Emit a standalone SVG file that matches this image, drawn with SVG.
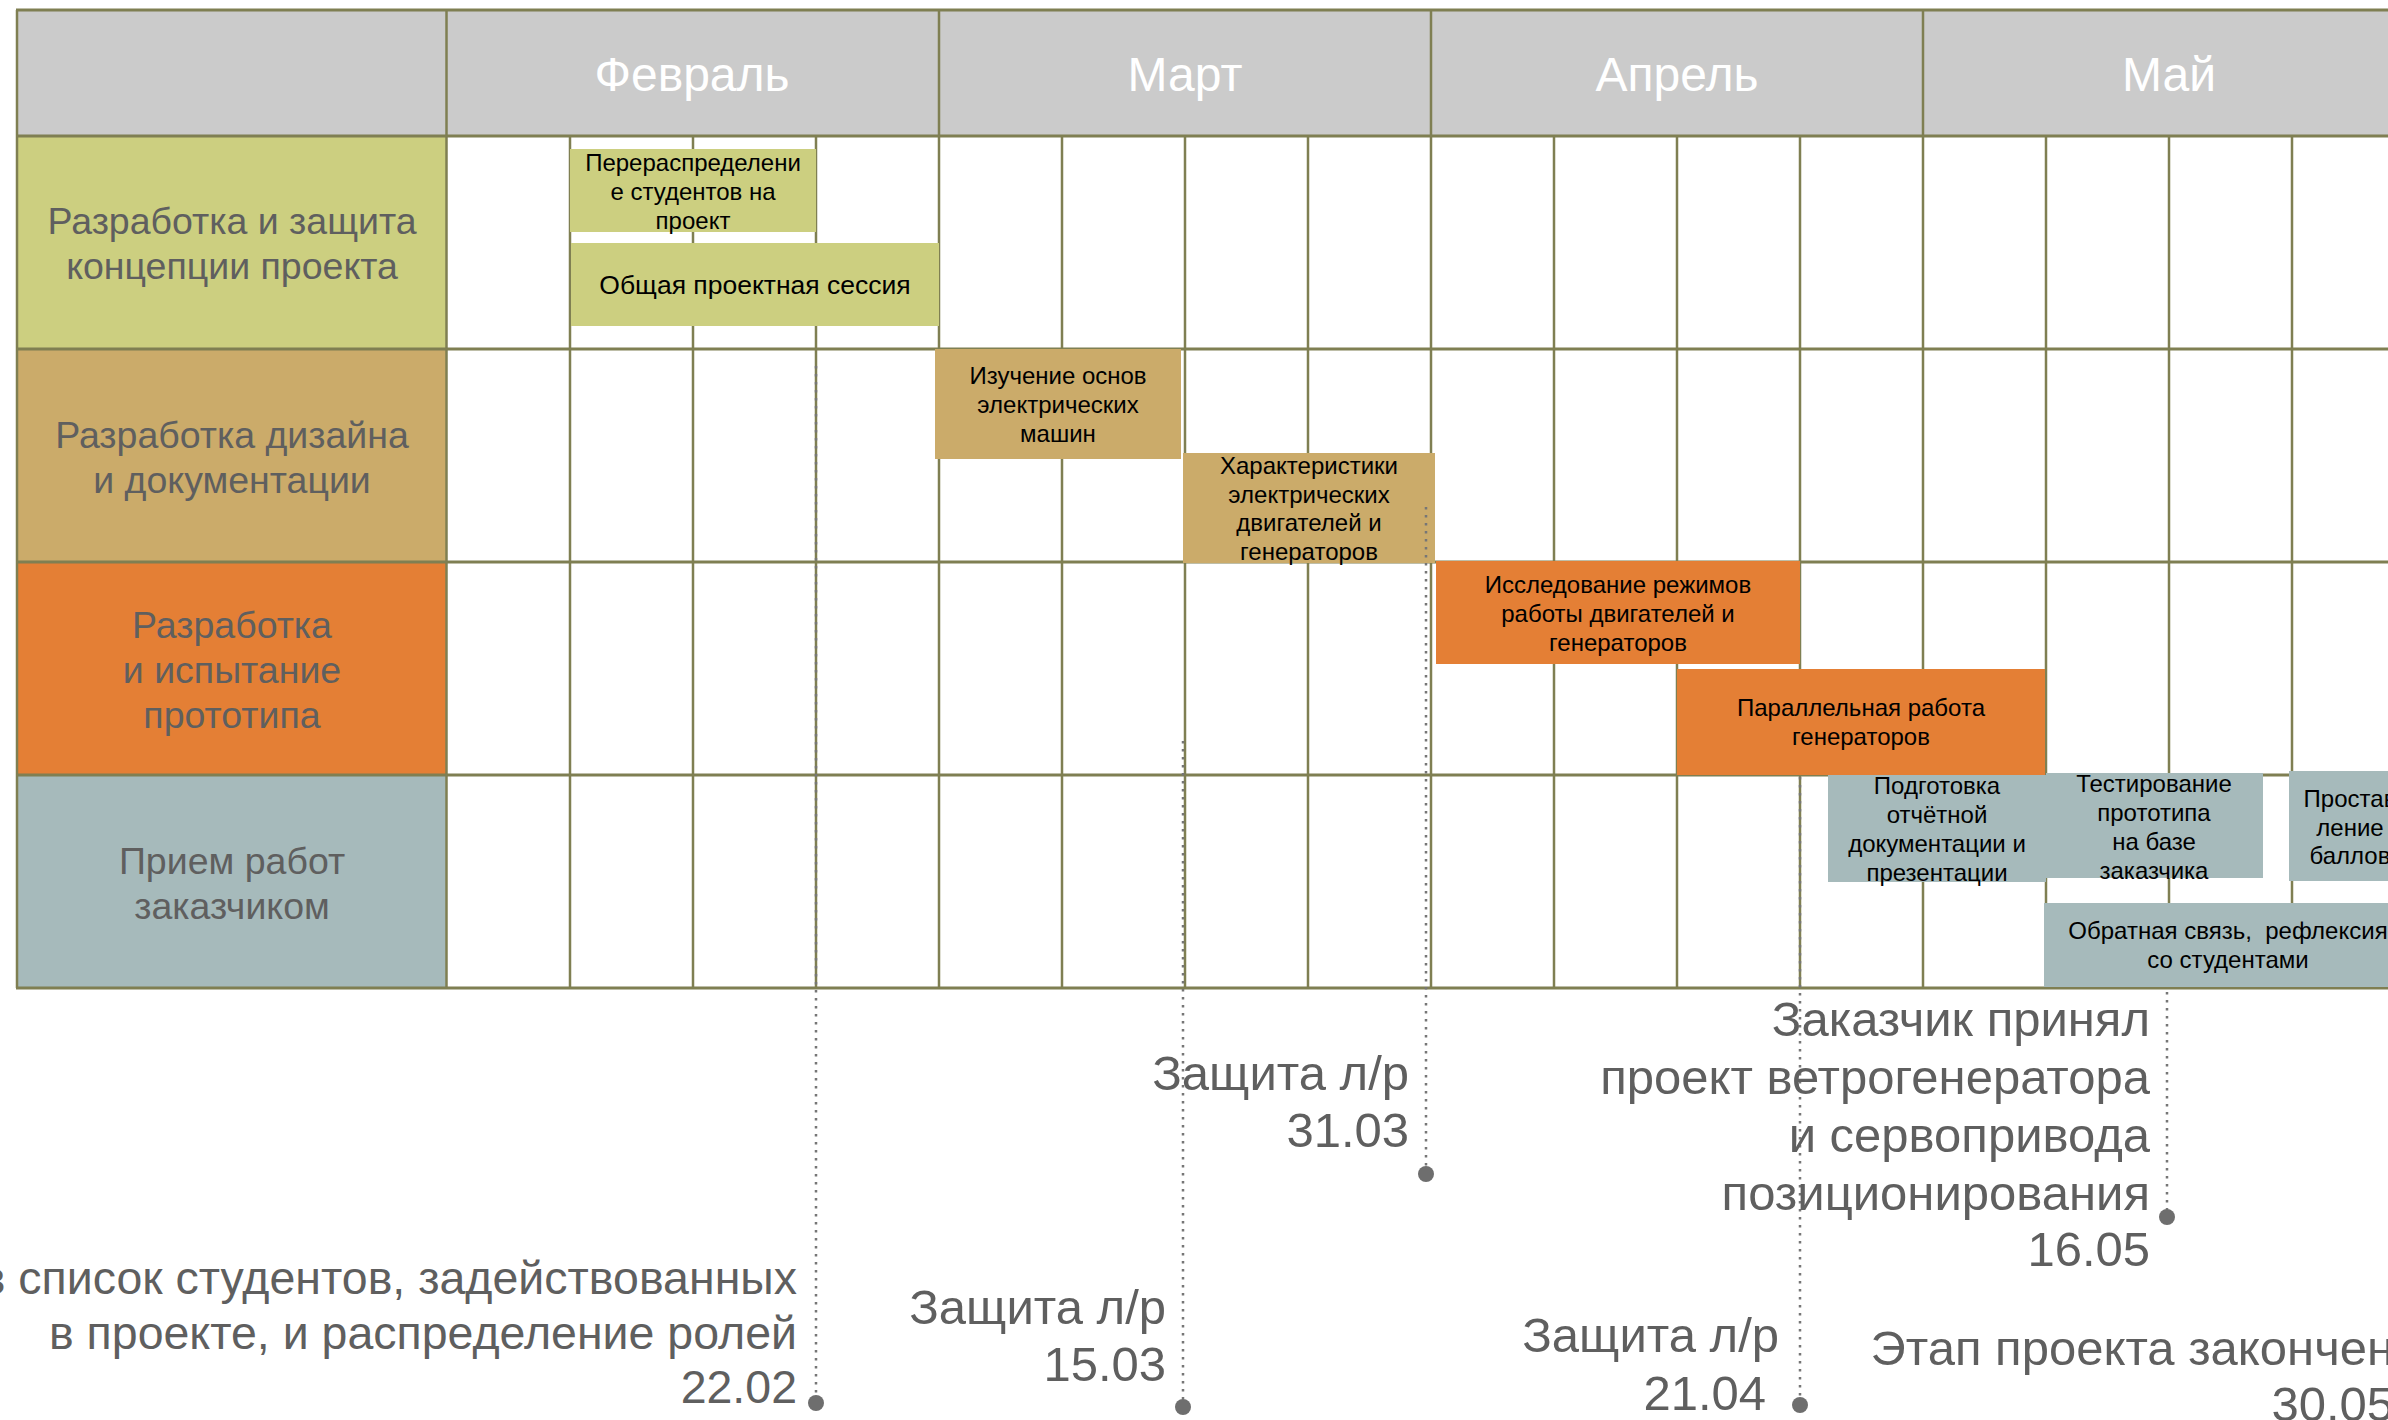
<svg xmlns="http://www.w3.org/2000/svg" width="2388" height="1420" viewBox="0 0 2388 1420">
<style>
text { font-family: "Liberation Sans", Arial, "DejaVu Sans", sans-serif; }
.hdr { fill: #CBCBCB; }
.hl { stroke: #7F7F52; stroke-width: 3; }
.vl { stroke: #7F7F52; stroke-width: 2.5; }
.month { font-size: 48px; fill: #FFFFFF; text-anchor: middle; }
.lbl { font-size: 37.5px; fill: #5F5F5F; text-anchor: middle; }
.task { font-size: 24px; fill: #000000; text-anchor: middle; }
.ms { font-size: 49px; fill: #5F5F5F; text-anchor: end; }
.ms45 { font-size: 46.5px; fill: #5F5F5F; text-anchor: end; }
.c1 { fill: #CCCF80; }
.c2 { fill: #CBAB6A; }
.c3 { fill: #E47F35; }
.c4 { fill: #A6BABB; }
.dl { stroke: #767676; stroke-width: 2.5; stroke-dasharray: 2.5 5.5; fill: none; }
.dot { fill: #6E6E6E; }
</style>
<rect width="2388" height="1420" fill="#FFFFFF"/>

<g id="header">
  <rect class="hdr" x="17" y="10" width="2390" height="126"/>
  <text class="month" x="692" y="91">Февраль</text>
  <text class="month" x="1185" y="91">Март</text>
  <text class="month" x="1677" y="91">Апрель</text>
  <text class="month" x="2169" y="91">Май</text>
</g>

<g id="row-labels">
  <g id="row1"><rect class="c1" x="17" y="136" width="430" height="213"/>
    <text class="lbl" x="232" y="234">Разработка и защита</text>
    <text class="lbl" x="232" y="279">концепции проекта</text></g>
  <g id="row2"><rect class="c2" x="17" y="349" width="430" height="213"/>
    <text class="lbl" x="232" y="448">Разработка дизайна</text>
    <text class="lbl" x="232" y="493">и документации</text></g>
  <g id="row3"><rect class="c3" x="17" y="562" width="430" height="213"/>
    <text class="lbl" x="232" y="638">Разработка</text>
    <text class="lbl" x="232" y="683">и испытание</text>
    <text class="lbl" x="232" y="728">прототипа</text></g>
  <g id="row4"><rect class="c4" x="17" y="775" width="430" height="213"/>
    <text class="lbl" x="232" y="874">Прием работ</text>
    <text class="lbl" x="232" y="919">заказчиком</text></g>
</g>

<g id="grid">
  <line class="vl" x1="17" y1="10" x2="17" y2="988"/>
  <line class="vl" x1="446.5" y1="10" x2="446.5" y2="988"/>
  <line class="vl" x1="939" y1="10" x2="939" y2="988"/>
  <line class="vl" x1="1431" y1="10" x2="1431" y2="988"/>
  <line class="vl" x1="1923" y1="10" x2="1923" y2="988"/>
  <line class="vl" x1="570" y1="136" x2="570" y2="988"/>
  <line class="vl" x1="693" y1="136" x2="693" y2="988"/>
  <line class="vl" x1="816" y1="136" x2="816" y2="988"/>
  <line class="vl" x1="1062" y1="136" x2="1062" y2="988"/>
  <line class="vl" x1="1185" y1="136" x2="1185" y2="988"/>
  <line class="vl" x1="1308" y1="136" x2="1308" y2="988"/>
  <line class="vl" x1="1554" y1="136" x2="1554" y2="988"/>
  <line class="vl" x1="1677" y1="136" x2="1677" y2="988"/>
  <line class="vl" x1="1800" y1="136" x2="1800" y2="988"/>
  <line class="vl" x1="2046" y1="136" x2="2046" y2="988"/>
  <line class="vl" x1="2169" y1="136" x2="2169" y2="988"/>
  <line class="vl" x1="2292" y1="136" x2="2292" y2="988"/>
  <line class="hl" x1="16" y1="10" x2="2400" y2="10"/>
  <line class="hl" x1="16" y1="136" x2="2400" y2="136"/>
  <line class="hl" x1="16" y1="349" x2="2400" y2="349"/>
  <line class="hl" x1="16" y1="562" x2="2400" y2="562"/>
  <line class="hl" x1="16" y1="775" x2="2400" y2="775"/>
  <line class="hl" x1="16" y1="988" x2="2400" y2="988"/>
</g>

<g id="t1"><rect class="c1" x="570" y="149" width="246" height="83"/>
  <text class="task" x="693" y="171">Перераспределени</text>
  <text class="task" x="693" y="200">е студентов на</text>
  <text class="task" x="693" y="229">проект</text></g>
<g id="t2"><rect class="c1" x="571" y="243" width="368" height="83"/>
  <text class="task" x="755" y="294" style="font-size:26.5px">Общая проектная сессия</text></g>
<g id="t3"><rect class="c2" x="935" y="349" width="246" height="110"/>
  <text class="task" x="1058" y="384">Изучение основ</text>
  <text class="task" x="1058" y="413">электрических</text>
  <text class="task" x="1058" y="442">машин</text></g>
<g id="t4"><rect class="c2" x="1183" y="453" width="252" height="110"/>
  <text class="task" x="1309" y="474">Характеристики</text>
  <text class="task" x="1309" y="503">электрических</text>
  <text class="task" x="1309" y="531">двигателей и</text>
  <text class="task" x="1309" y="560">генераторов</text></g>
<g id="t5"><rect class="c3" x="1436" y="561" width="364" height="103"/>
  <text class="task" x="1618" y="593">Исследование режимов</text>
  <text class="task" x="1618" y="622">работы двигателей и</text>
  <text class="task" x="1618" y="651">генераторов</text></g>
<g id="t6"><rect class="c3" x="1677" y="669" width="368" height="106"/>
  <text class="task" x="1861" y="716">Параллельная работа</text>
  <text class="task" x="1861" y="745">генераторов</text></g>
<g id="t7"><rect class="c4" x="1828" y="775" width="218" height="107"/>
  <text class="task" x="1937" y="794">Подготовка</text>
  <text class="task" x="1937" y="823">отчётной</text>
  <text class="task" x="1937" y="852">документации и</text>
  <text class="task" x="1937" y="881">презентации</text></g>
<g id="t8"><rect class="c4" x="2046" y="773" width="217" height="105"/>
  <text class="task" x="2154" y="792">Тестирование</text>
  <text class="task" x="2154" y="821">прототипа</text>
  <text class="task" x="2154" y="850">на базе</text>
  <text class="task" x="2154" y="879">заказчика</text></g>
<g id="t9"><rect class="c4" x="2289" y="771" width="123" height="110"/>
  <text class="task" x="2350" y="807">Простав</text>
  <text class="task" x="2350" y="836">ление</text>
  <text class="task" x="2350" y="864">баллов</text></g>
<g id="t10"><rect class="c4" x="2044" y="903" width="368" height="84"/>
  <text class="task" x="2228" y="939" style="white-space:pre">Обратная связь,  рефлексия</text>
  <text class="task" x="2228" y="968">со студентами</text></g>

<g id="connectors">
  <line class="dl" x1="816" y1="366" x2="816" y2="1403"/>
  <line class="dl" x1="1183" y1="741" x2="1183" y2="1407"/>
  <line class="dl" x1="1426" y1="507" x2="1426" y2="1174"/>
  <line class="dl" x1="1800" y1="777" x2="1800" y2="1405"/>
  <line class="dl" x1="2167" y1="992" x2="2167" y2="1217"/>
  <circle class="dot" cx="816" cy="1403" r="8"/>
  <circle class="dot" cx="1183" cy="1407" r="8"/>
  <circle class="dot" cx="1426" cy="1174" r="8"/>
  <circle class="dot" cx="1800" cy="1405" r="8"/>
  <circle class="dot" cx="2167" cy="1217" r="8"/>
</g>

<g id="m1">
  <text class="ms45" x="797" y="1294">в список студентов, задействованных</text>
  <text class="ms45" x="797" y="1349">в проекте, и распределение ролей</text>
  <text class="ms45" x="797" y="1403">22.02</text>
</g>
<g id="m2">
  <text class="ms" x="1166" y="1324">Защита л/р</text>
  <text class="ms" x="1166" y="1381">15.03</text>
</g>
<g id="m3">
  <text class="ms" x="1409" y="1090">Защита л/р</text>
  <text class="ms" x="1409" y="1147">31.03</text>
</g>
<g id="m4">
  <text class="ms" x="1779" y="1352">Защита л/р</text>
  <text class="ms" x="1766" y="1410">21.04</text>
</g>
<g id="m5">
  <text class="ms" x="2150" y="1036">Заказчик принял</text>
  <text class="ms" x="2150" y="1094">проект ветрогенератора</text>
  <text class="ms" x="2150" y="1152">и сервопривода</text>
  <text class="ms" x="2150" y="1210">позиционирования</text>
  <text class="ms" x="2150" y="1266">16.05</text>
</g>
<g id="m6">
  <text class="ms" x="2394" y="1365">Этап проекта закончен</text>
  <text class="ms" x="2394" y="1421">30.05</text>
</g>
</svg>
